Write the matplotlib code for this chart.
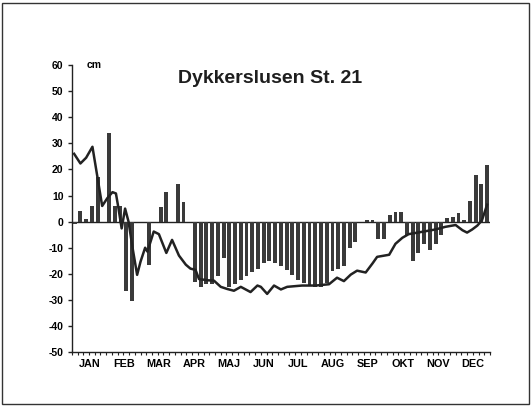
import numpy as np
import matplotlib
matplotlib.use("Agg")
import matplotlib.pyplot as plt
from matplotlib.patches import Rectangle

plt.rcParams['font.family'] = ['Liberation Sans', 'DejaVu Sans']

# Femdøgnsværdier (73 perioder) - afvigelse i cm
bar_values = [
    -1, 4, 1, 6, 17, 0, 34, 6, 6, -26.5,          # 0-9
    -30.5, 0, 0, -16.5, 0, 5.5, 11.5, 0, 14.5, 7.5,  # 10-19
    0, -23, -25, -24, -24, -21, -14, -25, -24, -22.5,  # 20-29
    -21, -19.5, -18, -16, -15, -16, -17, -18.5, -20.5, -22.5,  # 30-39
    -23.5, -24.5, -25, -25, -23.5, -19, -18, -17, -10, -8,  # 40-49
    0, 0.7, 0.7, -6.5, -6.5, 2.5, 3.7, 3.7, -5, -15,  # 50-59
    -12, -8.5, -11, -8.5, -5, 1.5, 1.8, 3.4, 0.6, 7.9,  # 60-69
    17.9, 14.6, 21.7,                                # 70-72
]

# Kurve (position i femdøgnsenheder, værdi i cm)
line_pos = [-0.1, 1.0, 2.0, 3.1, 4.8, 5.7, 6.6, 7.2, 7.6, 8.2, 8.8, 9.4,
            10.1, 10.9, 11.5, 12.3, 12.7, 13.8, 14.7, 16.0, 17.0, 18.2,
            19.4, 20.2, 21.1, 21.7, 23.3, 24.3, 25.5, 26.6, 27.8, 29.0,
            30.7, 31.9, 32.5, 33.6, 34.8, 36.0, 37.1, 39.7, 42.1, 44.4,
            45.8, 47.0, 48.2, 49.3, 50.8, 52.0, 52.8, 54.9, 56.0, 57.2,
            58.3, 60.4, 63.0, 64.7, 66.5, 67.7, 68.5, 69.4, 70.3, 71.1, 72.0]
line_val = [26, 22.3, 24.5, 28.7, 6, 9, 11.3, 10.8, 5.7, -2.6, 5, 0,
            -10, -20.4, -15.3, -10, -11.5, -3.8, -4.8, -12, -7, -13,
            -16.5, -18, -18.5, -22, -22.5, -22.6, -25, -25.8, -26.5, -25,
            -27, -24.5, -25, -27.7, -24.5, -26, -25, -24.5, -24.5, -24,
            -21.5, -22.8, -20.3, -18.8, -19.5, -16, -13.5, -12.7, -8.5, -6.2,
            -4.8, -4, -3, -2, -1.3, -3.3, -4.2, -3, -1.5, 0.5, 6.5]

months = ['JAN', 'FEB', 'MAR', 'APR', 'MAJ', 'JUN',
          'JUL', 'AUG', 'SEP', 'OKT', 'NOV', 'DEC']
yticks = list(range(-50, 61, 10))

n = len(bar_values)
x = np.arange(n)
bar_col = '#3a3a3a'
ink = '#222222'

fig = plt.figure(figsize=(5.32, 4.07), dpi=100)
fig.patch.set_facecolor('white')
ax = fig.add_axes([0.135, 0.135, 0.786, 0.705])

ax.bar(x, bar_values, width=0.68, color=bar_col, zorder=2)
ax.plot(line_pos, line_val, color=ink, lw=1.8, zorder=3)
ax.axhline(0, color=ink, lw=1.0, zorder=1)

ax.set_xlim(-0.5, n - 0.5)
ax.set_ylim(-50, 60)

for s in ['top', 'right']:
    ax.spines[s].set_visible(False)
for s in ['left', 'bottom']:
    ax.spines[s].set_color(ink)
    ax.spines[s].set_linewidth(1.0)

ax.set_yticks(yticks)
ax.set_yticklabels([str(v) for v in yticks], fontsize=7.5, fontweight='bold')
ax.tick_params(axis='y', direction='out', length=3, width=1, color=ink, pad=3)

# små tick-mærker for hver femdøgnsperiode, månedsnavne i midten
ax.set_xticks(np.arange(-0.5, n, 1.0), minor=True)
mid = [(m + 0.5) * n / 12 - 0.5 for m in range(12)]
ax.set_xticks(mid)
ax.set_xticklabels(months, fontsize=7.8, fontweight='bold')
ax.tick_params(axis='x', which='major', length=0, pad=5)
ax.tick_params(axis='x', which='minor', direction='out', length=2.5,
               width=0.8, color=ink)

ax.text(0.035, 1.0, 'cm', transform=ax.transAxes, fontsize=7.5,
        fontweight='bold', va='center', ha='left')
ax.text(0.475, 0.955, 'Dykkerslusen St. 21', transform=ax.transAxes,
        fontsize=14, fontweight='bold', ha='center', va='center',
        color='#1e1e1e')

fig.patches.append(Rectangle((0.004, 0.008), 0.99, 0.985, transform=fig.transFigure,
                             fill=False, edgecolor='#333333', lw=1.0))

fig.savefig('out.png', dpi=100)
